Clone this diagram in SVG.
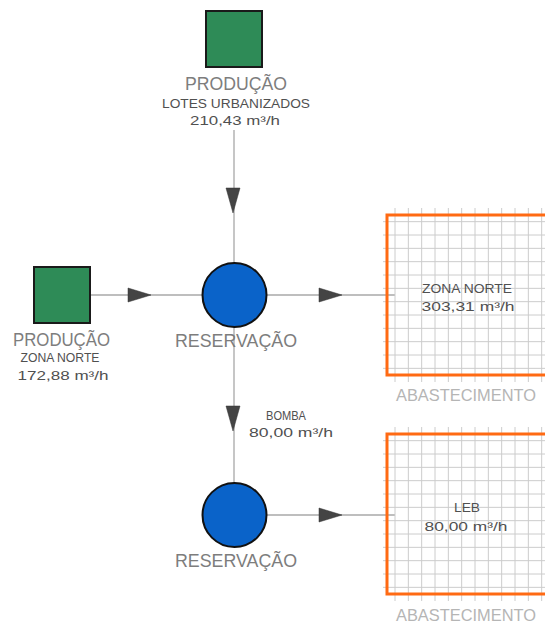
<svg xmlns="http://www.w3.org/2000/svg" width="545" height="625" viewBox="0 0 545 625">
<style>
.line{stroke:#a8a8a8;stroke-width:1.3;fill:none}
.arrow{fill:#444;stroke:#333;stroke-width:0.5}
.prod{fill:#2e8b57;stroke:#1a1a1a;stroke-width:2}
.res{fill:#0a63c9;stroke:#111;stroke-width:2}
.grid{stroke:#cccccc;stroke-width:1;fill:none}
.frame{fill:none;stroke:#ff6a13;stroke-width:3}
.big{font-family:"Liberation Sans","DejaVu Sans",sans-serif;font-size:18px;fill:#7d7d7d;text-anchor:middle}
.small{font-family:"Liberation Sans","DejaVu Sans",sans-serif;font-size:13px;fill:#505050;text-anchor:middle}
.abs{font-family:"Liberation Sans","DejaVu Sans",sans-serif;font-size:16.5px;fill:#b5b5b5}
</style>
<defs>
<path id="arrR" d="M0,-7 L23,0 L0,7 Z"/>
<path id="arrD" d="M-7,0 L7,0 L0,25 Z"/>
</defs>
<rect width="545" height="625" fill="#fff"/>

<g id="connectors">
<path class="line" d="M234,130 V483"/>
<path class="line" d="M91,295 H395"/>
<path class="line" d="M267,515 H395"/>
<use href="#arrD" class="arrow" x="233" y="188"/>
<use href="#arrD" class="arrow" x="233" y="406"/>
<use href="#arrR" class="arrow" x="128" y="295"/>
<use href="#arrR" class="arrow" x="319" y="295"/>
<use href="#arrR" class="arrow" x="319" y="515"/>
</g>

<g id="producao-lotes">
<rect class="prod" x="206" y="11" width="56" height="56"/>
<text class="big" x="236" y="90" textLength="102" lengthAdjust="spacingAndGlyphs">PRODUÇÃO</text>
<text class="small" x="236" y="108" textLength="148" lengthAdjust="spacingAndGlyphs">LOTES URBANIZADOS</text>
<text class="small" x="235" y="125" textLength="90" lengthAdjust="spacingAndGlyphs">210,43  m³/h</text>
</g>

<g id="producao-zona-norte">
<rect class="prod" x="34" y="267" width="56" height="56"/>
<text class="big" x="61.5" y="346" textLength="97" lengthAdjust="spacingAndGlyphs">PRODUÇÃO</text>
<text class="small" x="60" y="362" textLength="79" lengthAdjust="spacingAndGlyphs">ZONA NORTE</text>
<text class="small" x="63" y="380" textLength="91" lengthAdjust="spacingAndGlyphs">172,88  m³/h</text>
</g>

<g id="reservacao-1">
<circle class="res" cx="234.5" cy="295" r="32"/>
<text class="big" x="236" y="347" textLength="122" lengthAdjust="spacingAndGlyphs">RESERVAÇÃO</text>
</g>

<g id="bomba">
<text class="small" x="286" y="420" textLength="40" lengthAdjust="spacingAndGlyphs">BOMBA</text>
<text class="small" x="291" y="437" textLength="84" lengthAdjust="spacingAndGlyphs">80,00  m³/h</text>
</g>

<g id="reservacao-2">
<circle class="res" cx="234.5" cy="515" r="32"/>
<text class="big" x="236" y="567" textLength="122" lengthAdjust="spacingAndGlyphs">RESERVAÇÃO</text>
</g>

<g id="abastecimento-zona-norte">
<path class="grid" d="M395,208V382M408.33,208V382M421.67,208V382M435,208V382M448.33,208V382M461.67,208V382M475,208V382M488.33,208V382M501.67,208V382M515,208V382M528.33,208V382M541.67,208V382
M383,221.67H545M383,235H545M383,248.33H545M383,261.67H545M383,275H545M383,288.33H545M383,301.67H545M383,315H545M383,328.33H545M383,341.67H545M383,355H545M383,368.33H545"/>
<rect class="frame" x="387" y="215" width="170" height="160"/>
<text class="small" x="467" y="293" textLength="90" lengthAdjust="spacingAndGlyphs">ZONA NORTE</text>
<text class="small" x="468" y="311" textLength="93" lengthAdjust="spacingAndGlyphs">303,31  m³/h</text>
<text class="abs" x="396" y="401" textLength="140" lengthAdjust="spacingAndGlyphs">ABASTECIMENTO</text>
</g>

<g id="abastecimento-leb">
<path class="grid" d="M395,427V601M408.33,427V601M421.67,427V601M435,427V601M448.33,427V601M461.67,427V601M475,427V601M488.33,427V601M501.67,427V601M515,427V601M528.33,427V601M541.67,427V601
M383,440.67H545M383,454H545M383,467.33H545M383,480.67H545M383,494H545M383,507.33H545M383,520.67H545M383,534H545M383,547.33H545M383,560.67H545M383,574H545M383,587.33H545"/>
<rect class="frame" x="387" y="434" width="170" height="160"/>
<text class="small" x="467" y="512" textLength="26" lengthAdjust="spacingAndGlyphs">LEB</text>
<text class="small" x="466" y="531" textLength="83" lengthAdjust="spacingAndGlyphs">80,00  m³/h</text>
<text class="abs" x="396" y="621" textLength="140" lengthAdjust="spacingAndGlyphs">ABASTECIMENTO</text>
</g>
</svg>
